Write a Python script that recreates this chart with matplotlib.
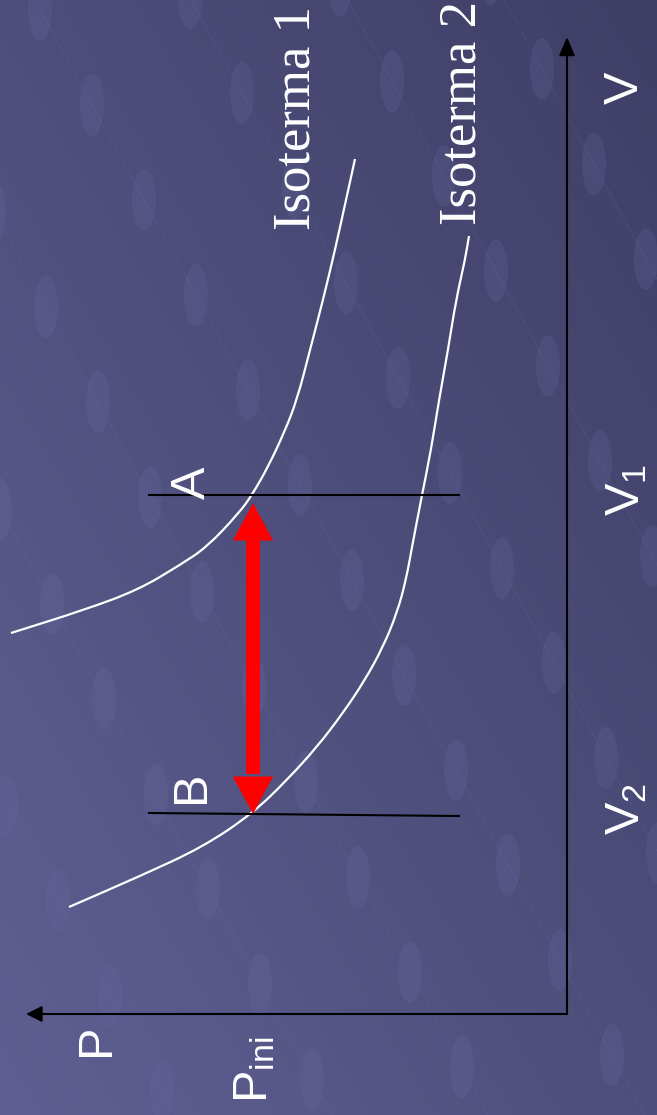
import numpy as np
import matplotlib
matplotlib.use("Agg")
import matplotlib.pyplot as plt
from matplotlib.patches import Ellipse, FancyArrowPatch, PathPatch
from matplotlib.path import Path

plt.rcParams['mathtext.fontset'] = 'custom'
plt.rcParams['mathtext.rm'] = 'Liberation Sans'
plt.rcParams['mathtext.default'] = 'regular'

# isotherms: pressure P (pointing left), volume V (pointing up)
iso1_P = [2.12, 2.21, 2.32, 2.44, 2.57, 2.70, 2.83, 2.99, 3.15, 3.28, 3.60, 3.87, 4.29, 4.83, 5.56]
iso1_V = [8.56, 8.15, 7.65, 7.15, 6.65, 6.15, 5.82, 5.48, 5.20, 5.02, 4.68, 4.50, 4.25, 4.05, 3.82]
iso2_P = [0.98, 1.02, 1.11, 1.19, 1.28, 1.36, 1.45, 1.55, 1.61, 1.70, 1.84, 2.02, 2.24, 2.50,
          2.80, 3.14, 3.64, 4.29, 4.98]
iso2_V = [7.79, 7.55, 7.15, 6.65, 6.15, 5.65, 5.20, 4.68, 4.35, 4.02, 3.68, 3.35, 3.02, 2.68,
          2.35, 2.02, 1.68, 1.38, 1.08]

v1, v2 = 5.20, 2.01          # volumes of states A and B
p_ini = 3.14                 # common pressure of A and B
p_line = (4.18, 1.08)        # extent of the V1 / V2 marker lines
p_max, v_max = 5.41, 9.78    # axis lengths
labels_iso = ['Isoterma 1', 'Isoterma 2']
labels_state = ['A', 'B']


def smooth_path(xs, ys):
    # quadratic bezier through the midpoints, using the read points as controls
    pts = np.column_stack([xs, ys])
    mids = (pts[:-1] + pts[1:]) / 2
    verts = [pts[0], mids[0]]
    codes = [Path.MOVETO, Path.LINETO]
    for i in range(1, len(pts) - 1):
        verts += [pts[i], mids[i]]
        codes += [Path.CURVE3, Path.CURVE3]
    verts.append(pts[-1])
    codes.append(Path.LINETO)
    return Path(verts, codes)


W, H = 657, 1115
fig = plt.figure(figsize=(W / 100, H / 100), dpi=100)

# background: diagonal gradient with a faint bubble texture
bg = fig.add_axes([0, 0, 1, 1])
yy, xx = np.mgrid[0:H, 0:W]
t = ((W - xx) / W + yy / H) / 2
c_dark = np.array([0x3e, 0x3e, 0x65]) / 255
c_light = np.array([0x5f, 0x5f, 0x93]) / 255
img = c_dark[None, None, :] * (1 - t[..., None]) + c_light[None, None, :] * t[..., None]
bg.imshow(img, extent=(0, W, H, 0), aspect='auto')
for i in range(-3, 7):
    for j in range(-1, 14):
        cx = 40 + 150 * i + 52 * j
        cy = 10 + 95 * j - 12 * i
        if -40 < cx < W + 40 and -60 < cy < H + 60:
            bg.add_patch(Ellipse((cx, cy), 24, 62, color='#6c6ca6', alpha=0.22, lw=0))
            bg.plot([cx, cx + 52], [cy, cy + 95], color='#7070aa', alpha=0.18, lw=0.8)
bg.set_xlim(0, W)
bg.set_ylim(H, 0)
bg.axis('off')

# main axes: P grows to the left, V grows upward
ax = fig.add_axes([0, 0, 1, 1])
ax.patch.set_alpha(0)
ax.set_xlim(5.67, -0.90)
ax.set_ylim(-1.00, 10.15)
ax.axis('off')

# axes arrows
ax.annotate('', xy=(p_max, 0.01), xytext=(0, 0.01),
            arrowprops=dict(arrowstyle='-|>,head_length=0.6,head_width=0.3', color='black',
                            lw=1.5, mutation_scale=16, shrinkA=0, shrinkB=0))
ax.annotate('', xy=(0, v_max), xytext=(0, 0.01),
            arrowprops=dict(arrowstyle='-|>,head_length=0.7,head_width=0.3', color='black',
                            lw=1.5, mutation_scale=16, shrinkA=0, shrinkB=0))

# isotherms
for xs, ys in [(iso1_P, iso1_V), (iso2_P, iso2_V)]:
    ax.add_patch(PathPatch(smooth_path(xs, ys), fc='none', ec='white', lw=1.6))

# V1 and V2 marker lines
ax.plot(p_line, [v1, v1], color='black', lw=1.5)
ax.plot(p_line, [v2 + 0.01, v2 - 0.02], color='black', lw=1.5)

# red double arrow between A and B
ax.plot([p_ini, p_ini], [v1 - 0.45, v2 + 0.40], color='red', lw=10, solid_capstyle='butt')
arr = FancyArrowPatch((p_ini, v2), (p_ini, v1 - 0.08),
                      arrowstyle='<|-|>,head_length=27,head_width=14.5',
                      mutation_scale=1, color='red', lw=0, shrinkA=0, shrinkB=0)
ax.add_patch(arr)

# texts
serif = 'Liberation Serif'
sans = 'Liberation Sans'
ax.text(2.70, 8.97, labels_iso[0], rotation=90, color='white', fontsize=38,
        family=serif, ha='center', va='center')
ax.text(1.04, 9.02, labels_iso[1], rotation=90, color='white', fontsize=38,
        family=serif, ha='center', va='center')
ax.text(-0.58, 9.27, 'V', rotation=90, color='white', fontsize=35,
        family=sans, ha='center', va='center')
ax.text(-0.60, v1 + 0.05, 'V$_1$', rotation=90, color='white', fontsize=35,
        family=sans, ha='center', va='center')
ax.text(-0.60, v2 + 0.05, 'V$_2$', rotation=90, color='white', fontsize=35,
        family=sans, ha='center', va='center')
ax.text(3.75, v1 + 0.12, labels_state[0], rotation=90, color='white', fontsize=35,
        family=sans, ha='center', va='center')
ax.text(3.75, v2 + 0.27, labels_state[1], rotation=90, color='white', fontsize=35,
        family=sans, ha='center', va='center')
ax.text(4.70, -0.25, 'P', rotation=90, color='white', fontsize=35,
        family=sans, ha='center', va='center')
ax.text(p_ini - 0.02, -0.55, 'P$_{ini}$', rotation=90, color='white', fontsize=35,
        family=sans, ha='center', va='center')

fig.savefig('out.png', dpi=100)
